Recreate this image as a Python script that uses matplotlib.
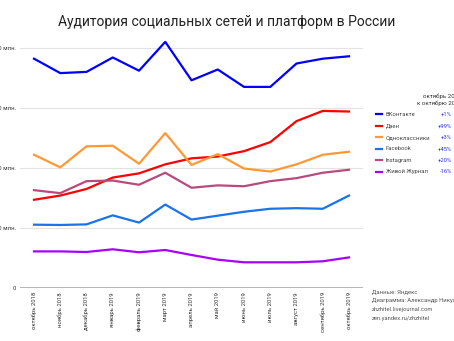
import matplotlib
matplotlib.use("Agg")
import matplotlib.pyplot as plt

plt.rcParams['font.family'] = ['Roboto', 'DejaVu Sans']

months = ["октябрь 2018", "ноябрь 2018", "декабрь 2018", "январь 2019",
          "февраль 2019", "март 2019", "апрель 2019", "май 2019",
          "июнь 2019", "июль 2019", "август 2019", "сентябрь 2019",
          "октябрь 2019"]

# audience, million
vk = [38.2, 35.8, 36.0, 38.4, 36.2, 41.0, 34.6, 36.4, 33.5, 33.5, 37.4, 38.2, 38.6]
dzen = [14.7, 15.4, 16.5, 18.4, 19.1, 20.6, 21.6, 21.9, 22.8, 24.3, 27.8, 29.5, 29.4]
ok = [22.2, 20.1, 23.6, 23.7, 20.7, 25.8, 20.5, 22.3, 19.9, 19.4, 20.6, 22.2, 22.7]
facebook = [10.55, 10.5, 10.6, 12.1, 10.9, 13.9, 11.4, 12.05, 12.7, 13.2, 13.3, 13.2, 15.4]
instagram = [16.3, 15.8, 17.8, 17.9, 17.2, 19.2, 16.7, 17.1, 16.95, 17.8, 18.3, 19.2, 19.7]
lj = [6.1, 6.1, 6.0, 6.45, 5.95, 6.33, 5.5, 4.72, 4.28, 4.28, 4.28, 4.45, 5.1]

names = ["ВКонтакте", "Дзен", "Одноклассники", "Facebook", "Instagram", "Живой Журнал"]
changes = ["+1%", "+99%", "+3%", "+45%", "+20%", "-16%"]
series = [vk, dzen, ok, facebook, instagram, lj]
colors = ["#0000ff", "#ff0000", "#ff9933", "#1a73e8", "#b84a7e", "#a800ff"]

yticks = [0, 10, 20, 30, 40]
ylabels = ["0", "10 млн.", "20 млн.", "30 млн.", "40 млн."]

fig = plt.figure(figsize=(4.54, 3.41), dpi=100)
ax = fig.add_axes([0.0441, 0.1554, 0.7555, 0.757])

x = list(range(len(months)))
for s, c in zip(series, colors):
    ax.plot(x, s, color=c, lw=1.6, solid_joinstyle='round')

ax.set_xlim(-0.533, 12.533)
ax.set_ylim(0, 43)
ax.set_yticks(yticks)
ax.set_yticklabels(ylabels, fontsize=4.2, color="#333333")
ax.set_xticks(x)
ax.set_xticklabels(months, rotation=90, fontsize=4.2, color="#333333")
ax.tick_params(length=0, pad=3)
ax.grid(axis='y', color="#e3e3e3", lw=0.8)
ax.axhline(0, color="#aaaaaa", lw=1.2)
for sp in ax.spines.values():
    sp.set_visible(False)

fig.text(0.5, 0.935, "Аудитория социальных сетей и платформ в России",
         ha='center', va='center', fontsize=10, color="#222222")

# legend with change column (header runs past the right edge, as in the source)
fig.text(462 / 454, 1 - 96 / 341, "октябрь 2019", ha='right', va='center', fontsize=4.4, color="#333333")
fig.text(462 / 454, 1 - 103 / 341, "к октябрю 2018", ha='right', va='center', fontsize=4.4, color="#333333")
for i, (n, ch, c) in enumerate(zip(names, changes, colors)):
    y = 1 - (114.3 + i * 11.5) / 341
    fig.add_artist(plt.Line2D([376 / 454, 382 / 454], [y, y], color=c, lw=1.6))
    fig.text(386 / 454, y, n, ha='left', va='center', fontsize=4.2, color="#444444")
    fig.text(452 / 454, y, ch, ha='right', va='center', fontsize=4.2, color="#3333ff")

notes = ["Данные: Яндекс", "Диаграмма: Александр Никулин",
         "zhzhitel.livejournal.com", "zen.yandex.ru/zhzhitel"]
for i, t in enumerate(notes):
    fig.text(372 / 454, 1 - (292 + i * 8.7) / 341, t, ha='left', va='center',
             fontsize=4.2, color="#555555")

fig.savefig("out.png", dpi=100)
